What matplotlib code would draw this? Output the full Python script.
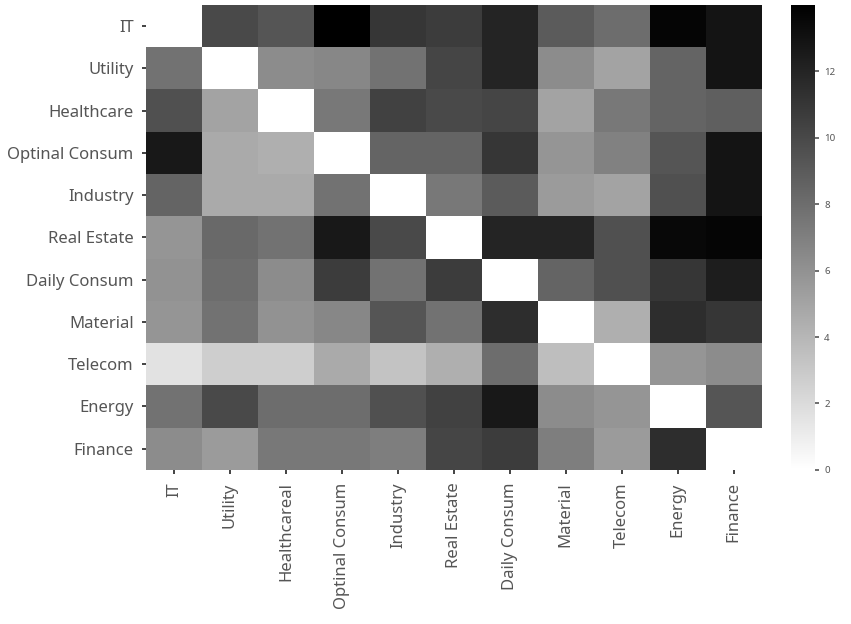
import numpy as np
import matplotlib.pyplot as plt

plt.rcParams['font.family'] = ['Noto Sans', 'DejaVu Sans']

ROWS = ["IT", "Utility", "Healthcare", "Optinal Consum", "Industry", "Real Estate",
        "Daily Consum", "Material", "Telecom", "Energy", "Finance"]
COLS = ["IT", "Utility", "Healthcareal", "Optinal Consum", "Industry", "Real Estate",
        "Daily Consum", "Material", "Telecom", "Energy", "Finance"]

r_it       = [0.0, 10.0, 9.3, 14.0, 11.0, 10.7, 12.0, 9.0, 8.0, 13.7, 12.9]
r_utility  = [7.7, 0.0, 6.3, 6.6, 7.7, 10.2, 12.0, 6.3, 5.0, 8.5, 12.9]
r_health   = [9.6, 5.0, 0.0, 7.4, 10.4, 9.9, 10.2, 5.0, 7.4, 8.5, 8.8]
r_optinal  = [12.6, 4.7, 4.4, 0.0, 8.5, 8.5, 11.0, 5.8, 6.9, 9.3, 12.9]
r_industry = [8.5, 4.7, 4.7, 7.7, 0.0, 7.4, 9.0, 5.5, 5.0, 9.6, 12.9]
r_realest  = [5.8, 8.2, 7.7, 12.6, 9.9, 0.0, 12.0, 12.0, 9.6, 13.5, 13.7]
r_daily    = [6.0, 8.0, 6.3, 10.7, 7.7, 10.7, 0.0, 8.5, 9.6, 11.0, 12.4]
r_material = [5.8, 7.7, 6.0, 6.6, 9.3, 7.7, 11.5, 0.0, 4.4, 11.5, 11.0]
r_telecom  = [1.6, 2.7, 2.7, 4.7, 3.3, 4.4, 8.0, 3.6, 0.0, 5.8, 6.3]
r_energy   = [7.7, 9.9, 8.0, 8.0, 9.6, 10.4, 12.6, 6.3, 5.8, 0.0, 9.3]
r_finance  = [6.3, 5.5, 7.4, 7.4, 7.1, 10.2, 10.7, 7.1, 5.5, 11.5, 0.0]

data = np.array([r_it, r_utility, r_health, r_optinal, r_industry, r_realest,
                 r_daily, r_material, r_telecom, r_energy, r_finance])

fig = plt.figure(figsize=(8.51, 6.24), dpi=100, facecolor="white")
ax = fig.add_axes([0.1716, 0.247, 0.7235, 0.745])
cax = fig.add_axes([0.929, 0.247, 0.029, 0.745])

im = ax.imshow(data, cmap="gray_r", vmin=0, vmax=14, aspect="auto", interpolation="nearest")
ax.set_xticks(range(len(COLS)))
ax.set_xticklabels(COLS, rotation=90, fontsize=12, color="#555555")
ax.set_yticks(range(len(ROWS)))
ax.set_yticklabels(ROWS, fontsize=12, color="#555555")
ax.tick_params(length=3, width=1.2, color="#222222", pad=6)
for s in ax.spines.values():
    s.set_visible(False)

cb = fig.colorbar(im, cax=cax)
cb.set_ticks([0, 2, 4, 6, 8, 10, 12])
cb.ax.tick_params(labelsize=7, length=3, width=1.2, colors="#555555")
cb.outline.set_visible(False)

fig.savefig("out.png", dpi=100, facecolor="white")
